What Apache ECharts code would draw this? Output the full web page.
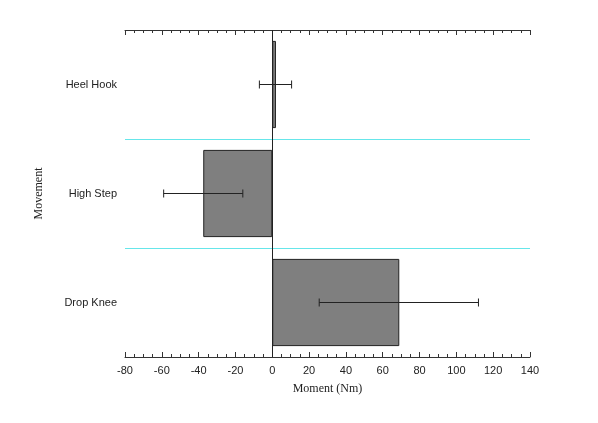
<!DOCTYPE html><html><head><meta charset="utf-8">
<script src="https://cdn.jsdelivr.net/npm/echarts@6/dist/echarts.min.js"></script>
<style>html,body{margin:0;background:#fff}#c{width:598px;height:423px}</style></head><body><div id="c"></div>
<script>
const categories=['Heel Hook','High Step','Drop Knee'];
const means=[2,-37.5,69];
const errLow=[-7,-59,25.5];
const errHigh=[10.5,-16,112];
const xTicks={min:-80,max:140,interval:20};
const chart=echarts.init(document.getElementById('c'));
const axisCommon={type:'value',min:xTicks.min,max:xTicks.max,interval:xTicks.interval,
 axisLine:{show:true,lineStyle:{color:'#333'}},axisTick:{show:true,inside:true,length:5,lineStyle:{color:'#333'}},
 minorTick:{show:true,splitNumber:4,length:3,lineStyle:{color:'#333'}},splitLine:{show:false}};
chart.setOption({
 animation:false,
 grid:{left:125,right:68,top:30,bottom:66},
 xAxis:[Object.assign({},axisCommon,{position:'bottom',name:'Moment (Nm)',nameLocation:'middle',nameGap:26,
   nameTextStyle:{fontFamily:'Liberation Serif',fontSize:12,color:'#222'},
   axisLabel:{fontFamily:'Liberation Sans',fontSize:11,color:'#222',margin:8}}),
  Object.assign({},axisCommon,{position:'top',axisLabel:{show:false}})],
 yAxis:{type:'category',data:categories,inverse:true,axisLine:{show:false},axisTick:{show:false},
  axisLabel:{fontFamily:'Liberation Sans',fontSize:11,color:'#222',margin:8},
  splitLine:{show:true,lineStyle:{color:'#66e6ea',width:1}},
  name:'Movement',nameLocation:'middle',nameGap:80,nameTextStyle:{fontFamily:'Liberation Serif',fontSize:12,color:'#222'}},
 series:[
  {type:'bar',data:means,barWidth:'80%',itemStyle:{color:'#7f7f7f',borderColor:'#222',borderWidth:1},
   markLine:{symbol:'none',silent:true,label:{show:false},lineStyle:{color:'#222',type:'solid',width:1},data:[{xAxis:0}]}},
  {type:'custom',z:5,data:categories.map((c,i)=>[errLow[i],errHigh[i],i]),
   renderItem:function(p,api){
    const a=api.coord([api.value(0),api.value(2)]);const b=api.coord([api.value(1),api.value(2)]);
    const st={stroke:'#222',lineWidth:1};
    return {type:'group',children:[
     {type:'line',shape:{x1:a[0],y1:a[1],x2:b[0],y2:b[1]},style:st},
     {type:'line',shape:{x1:a[0],y1:a[1]-4,x2:a[0],y2:a[1]+4},style:st},
     {type:'line',shape:{x1:b[0],y1:b[1]-4,x2:b[0],y2:b[1]+4},style:st}]};
   }}
 ]
});
</script></body></html>
